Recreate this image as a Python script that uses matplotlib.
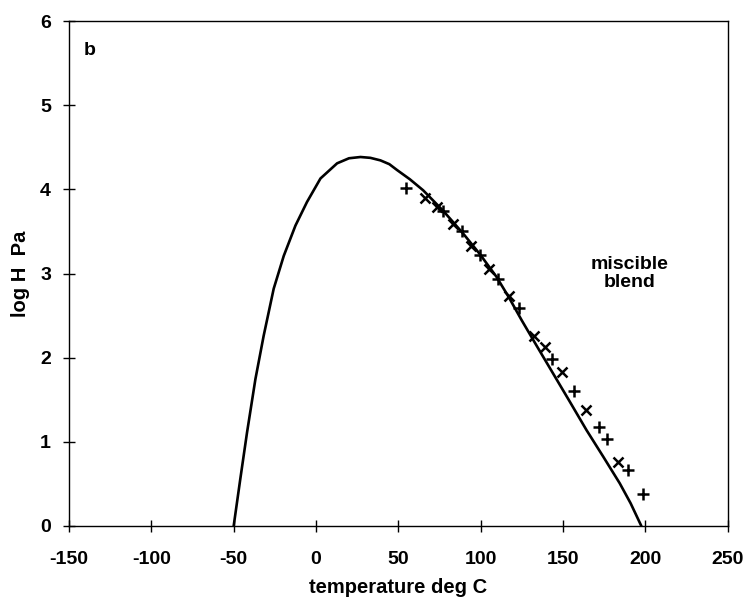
import matplotlib
matplotlib.use("Agg")
import matplotlib.pyplot as plt

plt.rcParams['font.family'] = ['Liberation Sans', 'DejaVu Sans']
plt.rcParams['axes.unicode_minus'] = False

# model curve
curve_T = [-50.0, -46.0, -41.9, -36.8, -31.8, -25.7, -19.6, -12.5, -5.5, 2.7, 12.8, 20.0, 27.0,
           33.0, 39.1, 44.5, 49.2, 57.0, 65.0, 77.0, 89.3, 99.5, 109.6, 117.0, 124.8, 134.0,
           144.0, 154.0, 164.2, 174.5, 184.4, 191.0, 197.5]
curve_H = [0.0, 0.556, 1.11, 1.746, 2.26, 2.82, 3.21, 3.57, 3.85, 4.13, 4.31, 4.37, 4.385,
           4.375, 4.345, 4.30, 4.23, 4.12, 3.99, 3.75, 3.476, 3.23, 2.96, 2.72, 2.447, 2.14,
           1.81, 1.48, 1.14, 0.82, 0.507, 0.27, 0.0]

# measured points, '+' symbols
plus_T = [54.4, 77.2, 88.4, 99.5, 110.6, 123.3, 143.0, 156.7, 171.7, 176.7, 189.5, 198.6]
plus_H = [4.02, 3.745, 3.50, 3.22, 2.93, 2.585, 1.99, 1.607, 1.172, 1.037, 0.665, 0.38]

# measured points, 'x' symbols
x_T = [66.1, 73.2, 82.9, 94.0, 105.0, 117.3, 132.2, 138.9, 149.4, 164.2, 183.4]
x_H = [3.90, 3.785, 3.587, 3.325, 3.05, 2.735, 2.26, 2.13, 1.825, 1.378, 0.764]

xticks = [-150, -100, -50, 0, 50, 100, 150, 200, 250]
yticks = [0, 1, 2, 3, 4, 5, 6]

fig = plt.figure(figsize=(7.48, 6.03), dpi=100)
ax = fig.add_axes([0.0922, 0.1277, 0.973 - 0.0922, 0.965 - 0.1277])

ax.plot(curve_T, curve_H, color='black', lw=1.9, solid_joinstyle='round', solid_capstyle='round')
ax.plot(plus_T, plus_H, linestyle='none', marker='+', color='black', ms=8.5, mew=1.8)
ax.plot(x_T, x_H, linestyle='none', marker='x', color='black', ms=7, mew=1.8)

ax.set_xlim(-150, 250)
ax.set_ylim(0, 6)
ax.set_xticks(xticks)
ax.set_yticks(yticks)
ax.set_xticklabels([str(t) for t in xticks])
ax.set_yticklabels([str(t) for t in yticks])
ax.tick_params(direction='inout', length=8, width=1, labelsize=14)
ax.tick_params(axis='x', pad=14)
ax.tick_params(axis='y', pad=9)
for lab in ax.get_xticklabels() + ax.get_yticklabels():
    lab.set_fontweight('bold')
for s in ax.spines.values():
    s.set_linewidth(1.0)

ax.set_xlabel('temperature deg C', fontsize=14.5, fontweight='bold', labelpad=7)
ax.set_ylabel('log H  Pa', fontsize=14.5, fontweight='bold', labelpad=7)

ax.text(-137.5, 5.65, 'b', fontsize=14, fontweight='bold', ha='center', va='center')
ax.text(190.5, 3.0, 'miscible\nblend', fontsize=14, fontweight='bold', ha='center', va='center',
        linespacing=1.05)

fig.savefig('out.png', dpi=100)
